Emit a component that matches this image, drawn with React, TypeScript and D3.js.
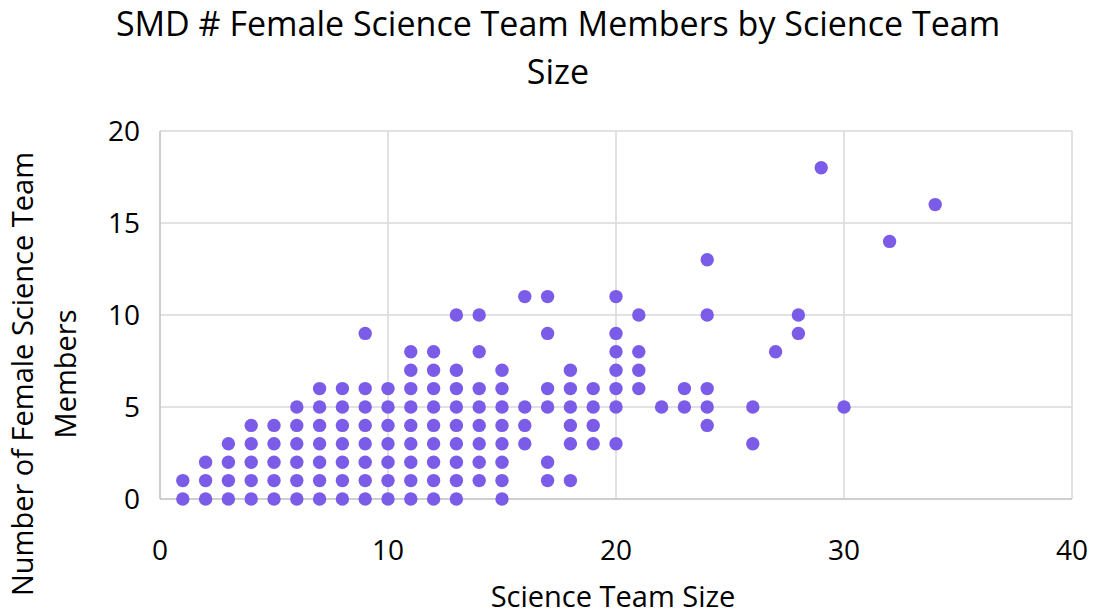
import React, { useEffect, useRef } from 'react';
import * as d3 from 'd3';

// team size -> list of female member counts observed at that size
const teamSizes = [1, 2, 3, 4, 5, 6, 7, 8, 9, 10, 11, 12, 13, 14, 15, 16, 17, 18, 19, 20, 21, 22, 23, 24, 26, 27, 28, 29, 30, 32, 34];
const femaleCounts: number[][] = [
  [0, 1],
  [0, 1, 2],
  [0, 1, 2, 3],
  [0, 1, 2, 3, 4],
  [0, 1, 2, 3, 4],
  [0, 1, 2, 3, 4, 5],
  [0, 1, 2, 3, 4, 5, 6],
  [0, 1, 2, 3, 4, 5, 6],
  [0, 1, 2, 3, 4, 5, 6, 9],
  [0, 1, 2, 3, 4, 5, 6],
  [0, 1, 2, 3, 4, 5, 6, 7, 8],
  [0, 1, 2, 3, 4, 5, 6, 7, 8],
  [0, 1, 2, 3, 4, 5, 6, 7, 10],
  [1, 2, 3, 4, 5, 6, 8, 10],
  [0, 1, 2, 3, 4, 5, 6, 7],
  [3, 4, 5, 11],
  [1, 2, 5, 6, 9, 11],
  [1, 3, 4, 5, 6, 7],
  [3, 4, 5, 6],
  [3, 5, 6, 7, 8, 9, 11],
  [6, 7, 8, 10],
  [5],
  [5, 6],
  [4, 5, 6, 10, 13],
  [3, 5],
  [8],
  [9, 10],
  [18],
  [5],
  [14],
  [16],
];

const xTicks = [0, 10, 20, 30, 40];
const yTicks = [0, 5, 10, 15, 20];

const W = 1094;
const H = 614;
const FONT = '"Open Sans", "Noto Sans", sans-serif';

export default function App() {
  const svgRef = useRef<SVGSVGElement>(null);

  useEffect(() => {
    const svg = d3.select(svgRef.current);
    svg.selectAll('*').remove();

    const left = 160, right = 1072, top = 131, bottom = 499;

    const x = d3.scaleLinear().domain([0, 40]).range([left, right]);
    const y = d3.scaleLinear().domain([0, 20]).range([bottom, top]);

    const points = teamSizes.flatMap((s, i) => femaleCounts[i].map(c => ({ s, c })));

    // gridlines
    svg.append('g')
      .selectAll('line')
      .data(yTicks.filter(t => t > 0))
      .join('line')
      .attr('x1', left).attr('x2', right)
      .attr('y1', d => y(d)).attr('y2', d => y(d))
      .attr('stroke', '#d9d9d9').attr('stroke-width', 1.5);

    svg.append('g')
      .selectAll('line')
      .data(xTicks.filter(t => t > 0))
      .join('line')
      .attr('x1', d => x(d)).attr('x2', d => x(d))
      .attr('y1', top).attr('y2', bottom)
      .attr('stroke', '#d9d9d9').attr('stroke-width', 1.5);

    // axis lines
    svg.append('line')
      .attr('x1', left).attr('x2', right).attr('y1', bottom).attr('y2', bottom)
      .attr('stroke', '#bfbfbf').attr('stroke-width', 1.5);
    svg.append('line')
      .attr('x1', left).attr('x2', left).attr('y1', top).attr('y2', bottom)
      .attr('stroke', '#bfbfbf').attr('stroke-width', 1.5);

    // tick labels
    svg.append('g')
      .selectAll('text')
      .data(xTicks)
      .join('text')
      .attr('x', d => x(d))
      .attr('y', bottom + 61)
      .attr('text-anchor', 'middle')
      .style('font-family', FONT)
      .style('font-size', '28px')
      .attr('fill', '#000')
      .text(d => d);

    svg.append('g')
      .selectAll('text')
      .data(yTicks)
      .join('text')
      .attr('x', 140)
      .attr('y', d => y(d))
      .attr('dy', '0.35em')
      .attr('text-anchor', 'end')
      .style('font-family', FONT)
      .style('font-size', '28px')
      .attr('fill', '#000')
      .text(d => d);

    // points
    svg.append('g')
      .selectAll('circle')
      .data(points)
      .join('circle')
      .attr('cx', d => x(d.s))
      .attr('cy', d => y(d.c))
      .attr('r', 6.7)
      .attr('fill', '#7b5ce9');

    // title
    const title = svg.append('text')
      .attr('text-anchor', 'middle')
      .style('font-family', FONT)
      .style('font-size', '34px')
      .attr('fill', '#000');
    title.append('tspan').attr('x', 558).attr('y', 36).text('SMD # Female Science Team Members by Science Team');
    title.append('tspan').attr('x', 558).attr('y', 84).text('Size');

    // x axis title
    svg.append('text')
      .attr('x', 613)
      .attr('y', 607)
      .attr('text-anchor', 'middle')
      .style('font-family', FONT)
      .style('font-size', '29px')
      .attr('fill', '#000')
      .text('Science Team Size');

    // y axis title
    const yt = svg.append('text')
      .attr('transform', 'translate(0,374) rotate(-90)')
      .attr('text-anchor', 'middle')
      .style('font-family', FONT)
      .style('font-size', '29px')
      .attr('fill', '#000');
    yt.append('tspan').attr('x', 0).attr('y', 33).text('Number of Female Science Team');
    yt.append('tspan').attr('x', 0).attr('y', 76).text('Members');
  }, []);

  return (
    <svg ref={svgRef} width={W} height={H} style={{ display: 'block', position: 'absolute', left: 0, top: 0 }} />
  );
}
